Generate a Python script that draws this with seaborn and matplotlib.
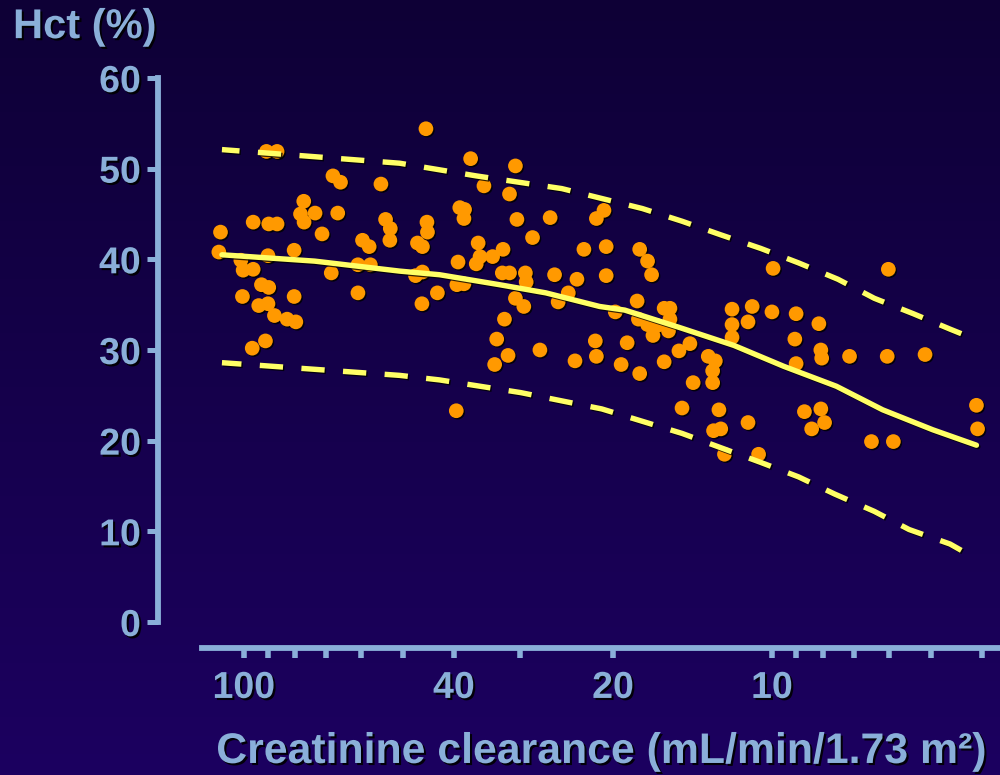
import numpy as np
import matplotlib
matplotlib.use('Agg')
import matplotlib.pyplot as plt
import matplotlib.patheffects as pe
from matplotlib.colors import LinearSegmentedColormap
from matplotlib.ticker import NullLocator
import seaborn as sns

# creatinine clearance (mL/min/1.73 m2) and haematocrit (%) per patient
crcl = [45.2, 90.6, 86.5, 37.2, 67.8, 65.6, 55.0, 35.1, 77.0, 78.1,
        76.9, 73.3, 66.4, 39.0, 38.2, 38.3, 96.0, 89.7, 86.5, 110.7,
        71.1, 53.9, 52.8, 52.9, 59.6, 57.9, 45.0, 44.9, 46.9, 45.9,
        36.0, 32.3, 111.5, 80.3, 90.0, 101.3, 100.3, 96.0, 68.3, 60.8,
        57.6, 47.3, 45.9, 39.3, 36.3, 35.7, 33.8, 32.4, 39.5, 38.3,
        92.6, 89.7, 100.6, 80.3, 60.8, 43.0, 46.0, 93.7, 90.0, 87.5,
        82.8, 79.7, 32.1, 33.2, 91.0, 96.4, 30.6, 31.4, 30.4, 26.3,
        20.8, 21.5, 28.4, 22.7, 20.6, 17.8, 17.2, 16.9, 20.6, 25.8,
        23.4, 31.4, 29.3, 29.2, 30.6, 29.5, 25.4, 24.3, 19.8, 18.0,
        17.9, 16.0, 15.6, 15.6, 16.5, 16.8, 15.7, 17.2, 14.3, 15.0,
        16.0, 14.1, 14.8, 17.8, 19.3, 18.8, 21.6, 21.5, 23.6, 27.5,
        31.6, 33.5, 39.6, 9.95, 6.02, 11.9, 10.9, 11.1, 11.9, 11.9,
        10.0, 9.0, 8.15, 9.05, 8.08, 8.05, 7.13, 6.05, 5.13, 9.0,
        13.2, 12.8, 12.95, 12.95, 12.6, 12.9, 12.5, 12.3, 10.6, 11.1,
        8.68, 8.08, 7.95, 8.41, 6.48, 5.89, 4.10, 4.08]
hct = [54.4, 51.9, 51.9, 51.1, 49.2, 48.5, 48.3, 48.1, 46.4, 45.0,
       44.1, 45.1, 45.1, 45.7, 45.5, 44.5, 44.1, 43.9, 43.9, 43.0,
       42.8, 44.4, 43.4, 42.1, 42.1, 41.4, 44.1, 43.0, 41.8, 41.4,
       41.8, 41.1, 40.8, 41.0, 40.4, 39.9, 38.8, 38.9, 38.5, 39.4,
       39.4, 38.2, 38.6, 39.7, 39.5, 40.3, 40.3, 38.5, 37.2, 37.3,
       37.2, 36.9, 35.9, 35.9, 36.3, 36.3, 35.1, 34.9, 35.1, 33.8,
       33.4, 33.1, 33.4, 31.2, 31.0, 30.2, 50.3, 47.2, 44.4, 44.6,
       45.4, 44.5, 42.4, 41.1, 41.4, 41.1, 39.8, 38.3, 38.2, 38.3,
       37.8, 38.5, 38.5, 37.5, 35.7, 34.8, 35.3, 36.3, 34.2, 35.4,
       33.4, 34.6, 34.6, 33.4, 32.7, 31.6, 32.1, 32.8, 30.7, 29.9,
       28.7, 26.4, 23.6, 27.4, 28.4, 30.8, 31.0, 29.3, 28.8, 30.0,
       29.4, 28.4, 23.3, 39.0, 38.9, 34.5, 34.8, 33.1, 32.8, 31.4,
       34.2, 34.0, 32.9, 31.2, 30.0, 29.1, 29.3, 29.3, 29.5, 28.5,
       29.3, 28.8, 27.7, 26.4, 23.4, 21.1, 21.3, 18.5, 18.5, 22.0,
       23.2, 23.5, 22.0, 21.3, 19.9, 19.9, 23.9, 21.3]

# fitted mean and upper / lower limits
mean_x = [110, 73.4, 50.7, 42.6, 32.8, 26.8, 21.2, 19.0, 15.0, 11.8, 9.5, 7.55, 6.17, 4.96, 4.1]
mean_y = [40.5, 39.8, 38.7, 38.3, 37.2, 36.3, 34.8, 34.4, 32.5, 30.5, 28.2, 26.0, 23.4, 21.2, 19.5]
upper_x = [110, 50.7, 36.3, 25.0, 17.6, 14.8, 12.5, 10.5, 8.9, 7.5, 6.4, 5.4, 4.6, 4.38]
upper_y = [52.1, 50.6, 49.2, 47.8, 45.6, 44.2, 42.7, 41.2, 39.6, 37.8, 35.7, 34.0, 32.3, 31.8]
lower_x = [110, 50.7, 42.6, 29.9, 21.0, 14.8, 10.5, 8.9, 7.6, 6.4, 5.5, 4.6, 4.38]
lower_y = [28.6, 27.2, 26.7, 25.3, 23.5, 20.8, 17.6, 16.0, 14.1, 12.2, 10.2, 8.6, 7.9]

x_ticks = [100, 90, 80, 70, 60, 50, 40, 30, 20, 10, 9, 8, 7, 6, 5, 4]
x_labelled = [100, 40, 20, 10]
y_ticks = [0, 10, 20, 30, 40, 50, 60]

axis_col = '#8aafd9'
dot_col = '#ff9900'
line_col = '#ffff66'

sns.set_style("ticks")
plt.rcParams['font.family'] = ['Liberation Sans', 'DejaVu Sans']
plt.rcParams['font.weight'] = 'bold'

shadow = [pe.SimplePatchShadow(offset=(1.5, -1.5), shadow_rgbFace='black', alpha=0.9), pe.Normal()]
dot_shadow = [pe.SimplePatchShadow(offset=(1.0, -1.0), shadow_rgbFace='black', alpha=0.85), pe.Normal()]
line_shadow = [pe.SimpleLineShadow(offset=(1.0, -1.0), shadow_color='black', alpha=0.8), pe.Normal()]

fig = plt.figure(figsize=(10, 7.75), dpi=100)

# dark navy gradient background
bg = fig.add_axes([0, 0, 1, 1], zorder=-1)
cmap = LinearSegmentedColormap.from_list('bg', ['#0e0036', '#1c0060'])
bg.imshow(np.linspace(0, 1, 256)[:, None], aspect='auto', cmap=cmap, extent=[0, 1, 0, 1])
bg.axis('off')

ax = fig.add_axes([0.202, 0.1974, 0.798, 0.702])
ax.set_facecolor('none')

sns.scatterplot(x=crcl, y=hct, ax=ax, color=dot_col, s=112, linewidth=0,
                zorder=3, path_effects=dot_shadow)

sns.lineplot(x=mean_x, y=mean_y, ax=ax, color=line_col, lw=3.9, zorder=4,
             path_effects=line_shadow)
for bx, by in [(upper_x, upper_y), (lower_x, lower_y)]:
    sns.lineplot(x=bx, y=by, ax=ax, color=line_col, lw=3.9, zorder=4,
                 linestyle=(0, (4.3, 3.4)), path_effects=line_shadow)

ax.set_xscale('log')
ax.set_xlim(120, 3.7)
ax.set_ylim(0, 60)
ax.grid(False)

ax.set_xticks(x_ticks)
ax.set_xticklabels([str(t) if t in x_labelled else '' for t in x_ticks])
ax.xaxis.set_minor_locator(NullLocator())
ax.set_yticks(y_ticks)

sns.despine(ax=ax, offset={'left': 32, 'bottom': 18.5})
ax.spines['left'].set_bounds(0, 60)
for side in ['left', 'bottom']:
    ax.spines[side].set_color(axis_col)
    ax.spines[side].set_linewidth(4.2)
    ax.spines[side].set_path_effects(shadow)

ax.tick_params(axis='x', direction='out', length=7, width=4, color=axis_col,
               labelsize=27, labelcolor=axis_col, pad=9)
ax.tick_params(axis='y', direction='out', length=8, width=3.6, color=axis_col,
               labelsize=27, labelcolor=axis_col, pad=4)
for lbl in ax.get_xticklabels() + ax.get_yticklabels():
    lbl.set_fontweight('bold')
    lbl.set_path_effects(shadow)

ax.set_xlabel('')
ax.set_ylabel('')

fig.text(0.013, 0.965, 'Hct (%)', ha='left', va='center', fontsize=30,
         fontweight='bold', color=axis_col, path_effects=shadow)
fig.text(0.601, 0.0297, 'Creatinine clearance (mL/min/1.73 m\u00b2)', ha='center',
         va='center', fontsize=30.8, fontweight='bold', color=axis_col, path_effects=shadow)

fig.savefig('out.png', dpi=100)
